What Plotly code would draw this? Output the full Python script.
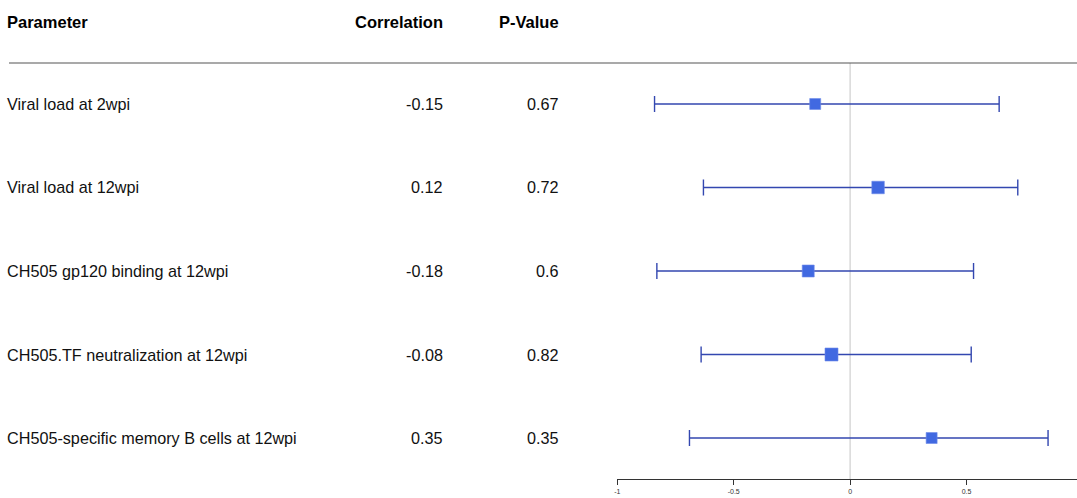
import plotly.graph_objects as go

parameters = [
    "Viral load at 2wpi",
    "Viral load at 12wpi",
    "CH505 gp120 binding at 12wpi",
    "CH505.TF neutralization at 12wpi",
    "CH505-specific memory B cells at 12wpi",
]
correlation = [-0.15, 0.12, -0.18, -0.08, 0.35]
p_values = ["0.67", "0.72", "0.6", "0.82", "0.35"]
ci_lower = [-0.84, -0.63, -0.83, -0.64, -0.69]
ci_upper = [0.64, 0.72, 0.53, 0.52, 0.85]
marker_sizes = [11, 12.5, 12, 13, 11]
x_ticks = [-1, -0.5, 0, 0.5, 1]
x_tick_labels = ["-1", "-0.5", "0", "0.5", "1"]

W, H = 1077, 498
row_pos = list(range(1, len(parameters) + 1))

FONT = "Liberation Sans, Arial, sans-serif"
LINE_BLUE = "#3347b0"
MARK_BLUE = "#4169e1"

fig = go.Figure()
fig.add_trace(go.Scatter(
    x=correlation,
    y=row_pos,
    mode="markers",
    marker=dict(symbol="square", size=marker_sizes, color=MARK_BLUE,
                opacity=1, line=dict(width=0.6, color="#6f8bea")),
    error_x=dict(
        type="data", symmetric=False,
        array=[u - c for u, c in zip(ci_upper, correlation)],
        arrayminus=[c - l for c, l in zip(correlation, ci_lower)],
        color=LINE_BLUE, thickness=1.4, width=8,
    ),
    showlegend=False,
    hoverinfo="skip",
))

# plot area geometry
top_px, bot_px = 63, 479
x_min_px, px_per_unit = 616, 233.5
x_max = (W - x_min_px) / px_per_unit - 1

annotations = []
def paper_y(px):
    return (H - px - (H - bot_px)) / (bot_px - top_px)

HDR = 16.5
BODY = 16.2
hdr_y = paper_y(22)
annotations.append(dict(x=2 / W, y=hdr_y, xref="paper", yref="paper", text="<b>Parameter</b>",
                        xanchor="left", yanchor="middle", showarrow=False,
                        font=dict(size=HDR, color="black", family=FONT)))
annotations.append(dict(x=443 / W, y=hdr_y, xref="paper", yref="paper", text="<b>Correlation</b>",
                        xanchor="right", yanchor="middle", showarrow=False,
                        font=dict(size=HDR, color="black", family=FONT)))
annotations.append(dict(x=560 / W, y=hdr_y, xref="paper", yref="paper", text="<b>P-Value</b>",
                        xanchor="right", yanchor="middle", showarrow=False,
                        font=dict(size=HDR, color="black", family=FONT)))

for yy, name, c, p in zip(row_pos, parameters, correlation, p_values):
    annotations.append(dict(x=2 / W, y=yy, xref="paper", yref="y", text=name,
                            xanchor="left", yanchor="middle", showarrow=False,
                            font=dict(size=BODY, color="#111", family=FONT)))
    annotations.append(dict(x=443 / W, y=yy, xref="paper", yref="y", text=f"{c:g}",
                            xanchor="right", yanchor="middle", showarrow=False,
                            font=dict(size=BODY, color="#111", family=FONT)))
    annotations.append(dict(x=560 / W, y=yy, xref="paper", yref="y", text=p,
                            xanchor="right", yanchor="middle", showarrow=False,
                            font=dict(size=BODY, color="#111", family=FONT)))

shapes = [
    dict(type="line", xref="paper", yref="paper", x0=6 / W, x1=1, y0=1, y1=1,
         line=dict(color="#555", width=1.2)),
    dict(type="line", xref="x", yref="paper", x0=0, x1=0, y0=0, y1=1,
         line=dict(color="#d9d9d9", width=1.5), layer="below"),
]

spacing = (bot_px - top_px) / 4.98
pad = (104 - top_px) / spacing
fig.update_layout(
    width=W, height=H,
    margin=dict(l=0, r=0, t=top_px, b=H - bot_px),
    paper_bgcolor="white", plot_bgcolor="white",
    annotations=annotations,
    shapes=shapes,
    xaxis=dict(
        domain=[x_min_px / W, 1],
        range=[-1, x_max],
        tickvals=x_ticks, ticktext=x_tick_labels,
        showline=True, linecolor="#333", linewidth=1.2,
        ticks="outside", ticklen=5, tickcolor="#333", tickwidth=1.2,
        tickfont=dict(size=7, color="#333", family=FONT),
        showgrid=False, zeroline=False,
    ),
    yaxis=dict(
        range=[len(parameters) + pad, 1 - pad],
        visible=False, showgrid=False, zeroline=False,
    ),
)

fig.write_html(
    "out.html",
    config={"displayModeBar": False, "staticPlot": True},
    post_script="document.body.style.margin='0';document.body.style.overflow='hidden';",
)
